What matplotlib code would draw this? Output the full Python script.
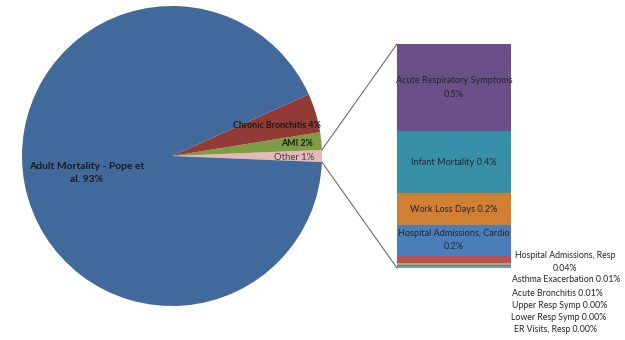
import matplotlib
matplotlib.use("Agg")
import matplotlib.pyplot as plt
from matplotlib.patches import ConnectionPatch
import numpy as np

plt.rcParams['font.family'] = ['Lato', 'DejaVu Sans']

# ---- data ----
pie_labels = ["Other", "AMI", "Chronic Bronchitis", "Adult Mortality - Pope et\nal."]
pie_main_values = [1.9, 4.2, 92.6]          # AMI, Chronic Bronchitis, Adult Mortality
pie_colors = ["#E6B8B7", "#7E9C46", "#923A36", "#41699B"]

bar_labels = ["ER Visits, Resp", "Lower Resp Symp", "Upper Resp Symp", "Acute Bronchitis",
              "Asthma Exacerbation", "Hospital Admissions, Resp", "Hospital Admissions, Cardio",
              "Work Loss Days", "Infant Mortality", "Acute Respiratory Symptoms"]
bar_values = [0.002, 0.003, 0.004, 0.008, 0.012, 0.04, 0.18, 0.18, 0.36, 0.50]
bar_colors = ["#A9C4E8", "#9B86BA", "#4BACC6", "#8064A2", "#9BBB59", "#C0504D",
              "#4A7EBB", "#D17F33", "#3890A8", "#6A4F88"]

other_value = sum(bar_values)
pie_values = [other_value] + pie_main_values
total = sum(pie_values)

fig = plt.figure(figsize=(6.25, 3.4), dpi=100)
ax = fig.add_axes([0, 0, 1, 1])

cx, cy, r = 172, 184, 150
start = -pie_values[0] / total * 360 / 2
wedges, _ = ax.pie(pie_values, colors=pie_colors, startangle=start, counterclock=True,
                   center=(cx, cy), radius=r, frame=True,
                   wedgeprops=dict(linewidth=0))
ax.set_xlim(0, 625)
ax.set_ylim(0, 340)
ax.set_aspect('equal')
ax.axis('off')

# pie labels
pcts = [v / total * 100 for v in pie_values]
ax.text(314, 183, f"{pie_labels[0]} {pcts[0]:.0f}%", ha='right', va='center',
        fontsize=6.8, color='#404040')
ax.text(313, 197, f"{pie_labels[1]} {pcts[1]:.0f}%", ha='right', va='center',
        fontsize=6.4, fontweight='bold', color='#1a1a1a')
ax.text(321, 215, f"{pie_labels[2]} {pcts[2]:.0f}%", ha='right', va='center',
        fontsize=6.4, fontweight='bold', color='#1a1a1a')
ax.text(87, 167, f"{pie_labels[3]} {pcts[3]:.0f}%", ha='center', va='center',
        fontsize=7.4, fontweight='bold', color='#1a1a1a', linespacing=1.5)

# bar of "Other"
bx0, bx1, by0, by1 = 397, 511, 72, 296
bax = fig.add_axes([bx0 / 625, by0 / 340, (bx1 - bx0) / 625, (by1 - by0) / 340])
bottoms = np.concatenate([[0], np.cumsum(bar_values)[:-1]])
bax.bar([0] * len(bar_values), bar_values, bottom=bottoms, width=1.0,
        color=bar_colors, linewidth=0)
bax.set_xlim(-0.5, 0.5)
bax.set_ylim(0, other_value)
bax.axis('off')

def fmt(v):
    p = v / total * 100
    return f"{p:.1f}%" if p >= 0.1 else f"{p:.2f}%"

for i in range(6, 10):
    mid = bottoms[i] + bar_values[i] / 2
    if bar_labels[i] in ("Acute Respiratory Symptoms", "Hospital Admissions, Cardio"):
        s = f"{bar_labels[i]}\n{fmt(bar_values[i])}"
    else:
        s = f"{bar_labels[i]} {fmt(bar_values[i])}"
    bax.text(0, mid, s, ha='center', va='center', fontsize=6.6, color='#262626',
             linespacing=1.6, clip_on=False)

# small labels outside the bar
small_y = [10, 22, 34, 47, 60, 78]   # pixel y from bottom (ER .. Hosp Resp)
small_x = [556, 559, 560, 557, 566, 565]
for i in range(6):
    if i == 5:
        s = f"{bar_labels[i]}\n{fmt(bar_values[i])}"
    else:
        s = f"{bar_labels[i]} {fmt(bar_values[i])}"
    ax.text(small_x[i], small_y[i], s, ha='center', va='center', fontsize=6.3,
            color='#262626', linespacing=1.6)

# connector lines
th1 = np.deg2rad(wedges[0].theta1)
th2 = np.deg2rad(wedges[0].theta2)
p_top = (cx + r * np.cos(th2), cy + r * np.sin(th2))
p_bot = (cx + r * np.cos(th1), cy + r * np.sin(th1))
for p, yb in [(p_top, 1), (p_bot, 0)]:
    con = ConnectionPatch(xyA=p, coordsA=ax.transData, xyB=(0, yb),
                          coordsB=bax.transAxes, color='#6e6e6e', linewidth=0.8)
    fig.add_artist(con)

fig.savefig("out.png", dpi=100)
